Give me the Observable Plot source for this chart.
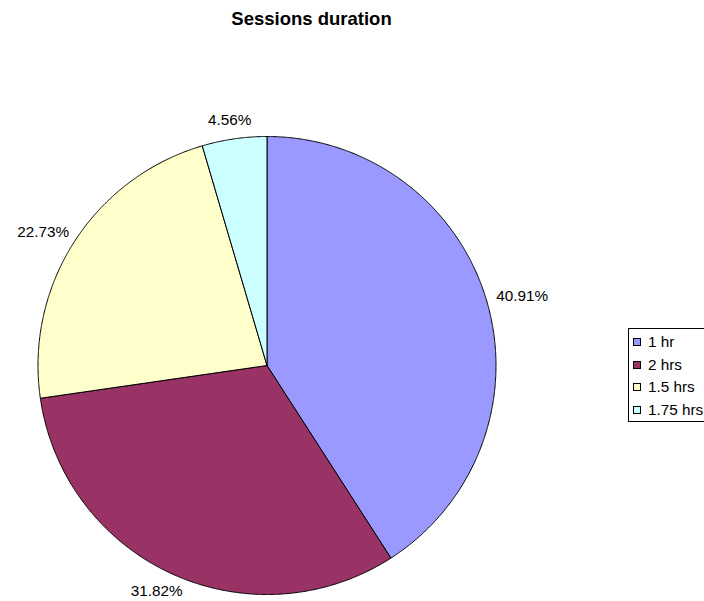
<!DOCTYPE html>
<html>
<head>
<meta charset="utf-8">
<script src="https://cdn.jsdelivr.net/npm/d3@7"></script>
<script src="https://cdn.jsdelivr.net/npm/@observablehq/plot@0.6"></script>
<style>
  html, body { margin: 0; padding: 0; background: #fff; }
  #wrap { position: relative; width: 704px; height: 601px; overflow: hidden; font-family: Arial, "Liberation Sans", sans-serif; }
  #title { position: absolute; left: 0; top: 8px; width: 623px; text-align: center; font-weight: bold; font-size: 18.5px; color: #000; }
  #legend { position: absolute; left: 628px; top: 328px; width: 100px; height: 94px; border: 1px solid #000; box-sizing: border-box; background: #fff; }
  .row { position: absolute; left: 4px; height: 18px; display: flex; align-items: center; font-size: 15.3px; color: #000; white-space: nowrap; }
  .sw { width: 6px; height: 6px; border: 1px solid #000; margin-right: 7px; }
  #chart { position: absolute; left: 0; top: 0; }
</style>
</head>
<body>
<div id="wrap">
  <div id="chart"></div>
  <div id="title">Sessions duration</div>
  <div id="legend"></div>
</div>
<script>
// Session lengths and their share of all sessions (percent)
const categories = ["1 hr", "2 hrs", "1.5 hrs", "1.75 hrs"];
const shares = [40.91, 31.82, 22.73, 4.56];
const colors = ["#9999FF", "#993366", "#FFFFCC", "#CCFFFF"];

const labelFont = 15.3;
const pxPerUnit = 229; // pie radius in pixels (one unit of the x/y scales)

// Slices run clockwise from 12 o'clock
const total = d3.sum(shares);
let acc = 0;
const slices = categories.map((name, i) => {
  const a0 = (acc / total) * 2 * Math.PI;
  acc += shares[i];
  const a1 = (acc / total) * 2 * Math.PI;
  return {name, value: shares[i], color: colors[i], a0, a1};
});

// Outline of each slice in unit-circle coordinates
const outline = [];
for (const s of slices) {
  outline.push({name: s.name, x: 0, y: 0});
  const n = Math.max(2, Math.ceil((s.a1 - s.a0) / 0.005));
  for (let k = 0; k <= n; k++) {
    const a = s.a0 + (s.a1 - s.a0) * k / n;
    outline.push({name: s.name, x: Math.sin(a), y: Math.cos(a)});
  }
  outline.push({name: s.name, x: 0, y: 0});
}

// Percentage labels: the label box sits just outside the rim, pushed
// outward by half its width/height along the slice's middle direction
const ctx = document.createElement("canvas").getContext("2d");
ctx.font = `${labelFont}px Arial, 'Liberation Sans', sans-serif`;
const labels = slices.map(s => {
  const m = (s.a0 + s.a1) / 2;
  const text = s.value.toFixed(2) + "%";
  const w = ctx.measureText(text).width;
  const h = labelFont;
  const r = 1 + 11 / pxPerUnit;
  return {
    text,
    x: r * Math.sin(m) + (w / 2) * Math.sin(m) / pxPerUnit,
    y: r * Math.cos(m) + (h / 2) * Math.cos(m) / pxPerUnit
  };
});

const chart = Plot.plot({
  width: 704,
  height: 601,
  marginLeft: 37.5,
  marginRight: 208.5,
  marginTop: 136,
  marginBottom: 7,
  x: {domain: [-1, 1], axis: null},
  y: {domain: [-1, 1], axis: null},
  color: {domain: categories, range: colors},
  style: {fontFamily: "Arial, 'Liberation Sans', sans-serif", overflow: "visible"},
  marks: [
    Plot.line(outline, {x: "x", y: "y", z: "name", fill: "name", stroke: "#000", strokeWidth: 1, curve: "linear-closed"}),
    Plot.text(labels, {x: "x", y: "y", text: "text", fontSize: labelFont, fill: "#000"})
  ]
});
document.getElementById("chart").appendChild(chart);

// Legend
const legend = document.getElementById("legend");
categories.forEach((c, i) => {
  const row = document.createElement("div");
  row.className = "row";
  row.style.top = (4 + i * 22.7) + "px";
  const sw = document.createElement("span");
  sw.className = "sw";
  sw.style.background = colors[i];
  row.appendChild(sw);
  row.appendChild(document.createTextNode(c));
  legend.appendChild(row);
});
</script>
</body>
</html>
